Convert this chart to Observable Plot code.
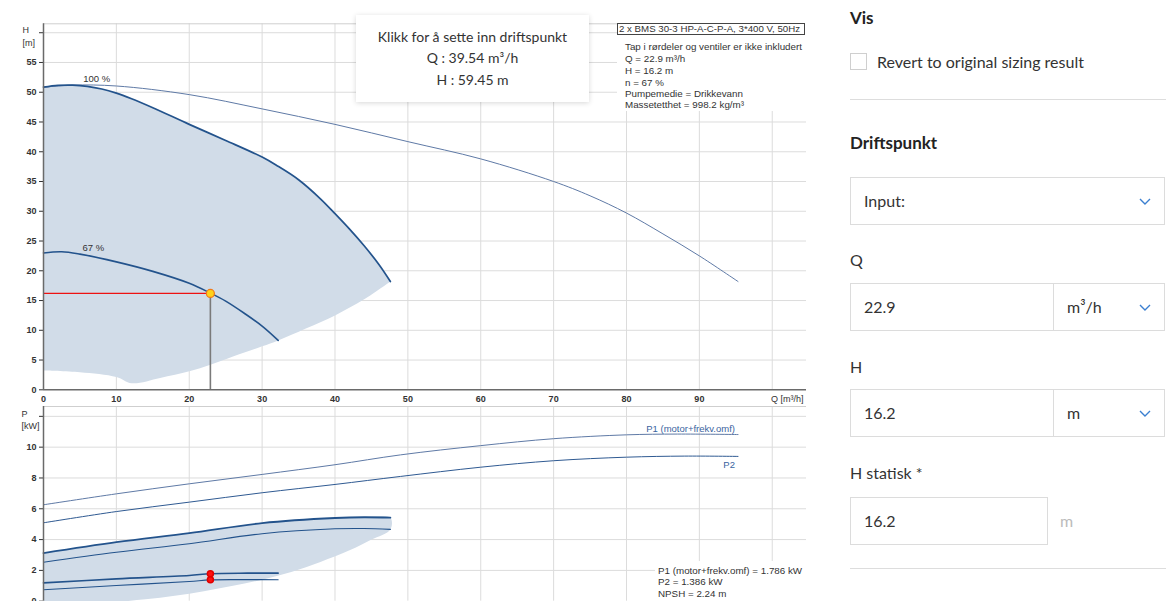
<!DOCTYPE html>
<html>
<head>
<meta charset="utf-8">
<script src="https://cdn.jsdelivr.net/npm/d3@7"></script>
<script src="https://cdn.jsdelivr.net/npm/@observablehq/plot@0.6"></script>
<style>
  body { margin: 0; background: #fff; }
  #page { position: relative; width: 1166px; height: 601px; overflow: hidden; font-family: Lato, "Open Sans", sans-serif; color: #333; }
  #top { position: absolute; left: 0; top: 0; }
  #bottom { position: absolute; left: 0; top: 400px; }
  .abs { position: absolute; }
  .chart-txt { font-family: "Liberation Sans", Arial, sans-serif; font-size: 9.8px; color: #333; white-space: nowrap; }
  #legend { left: 617px; top: 23px; width: 189px; height: 88px; background: #fff; }
  #legend .ttl { position: absolute; left: 0; top: 0; width: 185px; height: 10px; border: 1px solid #444; line-height: 10px; padding-left: 1px; font-size: 9.7px; overflow: hidden; }
  #legend .ln { position: absolute; left: 8px; line-height: 11px; }
  #info { left: 655px; top: 561px; width: 151px; height: 40px; background: #fff; }
  #info .ln { position: absolute; left: 3px; line-height: 11px; }
  #tip { left: 356px; top: 15px; width: 233px; height: 87px; background: #fff; box-shadow: 0 1px 5px rgba(0,0,0,0.16); font-family: Lato, sans-serif; font-size: 14px; color: #333; text-align: center; }
  #tip div { position: absolute; left: 0; width: 100%; line-height: 18px; }
  .h1 { font-size: 17px; font-weight: bold; color: #222; line-height: 22px; }
  .lbl { font-size: 16px; line-height: 22px; color: #333; }
  .box { border: 1px solid #dcdcdc; box-sizing: border-box; height: 48px; font-size: 16px; line-height: 46px; padding-left: 13px; color: #333; }
  .hr { height: 1px; background: #ddd; left: 850px; width: 316px; }
  .chev { position: absolute; right: 13px; top: 20px; }
  svg g[aria-label$="axis"] text, svg g[aria-label$="tick label"] text { font-weight: bold; }
</style>
</head>
<body>
<div id="page">
  <div id="top"></div>
  <div id="bottom"></div>

  <div id="legend" class="abs chart-txt">
    <div class="ttl">2 x BMS 30-3 HP-A-C-P-A, 3*400 V, 50Hz</div>
    <div class="ln" style="top:18px">Tap i rørdeler og ventiler er ikke inkludert</div>
    <div class="ln" style="top:30px">Q = 22.9 m³/h</div>
    <div class="ln" style="top:42px">H = 16.2 m</div>
    <div class="ln" style="top:54px">n = 67 %</div>
    <div class="ln" style="top:65px">Pumpemedie = Drikkevann</div>
    <div class="ln" style="top:76px">Massetetthet = 998.2 kg/m³</div>
  </div>

  <div id="info" class="abs chart-txt">
    <div class="ln" style="top:4px">P1 (motor+frekv.omf) = 1.786 kW</div>
    <div class="ln" style="top:15px">P2 = 1.386 kW</div>
    <div class="ln" style="top:27px">NPSH = 2.24 m</div>
  </div>

  <div id="tip" class="abs">
    <div style="top:13px">Klikk for å sette inn driftspunkt</div>
    <div style="top:34px">Q : 39.54 m³/h</div>
    <div style="top:56px">H : 59.45 m</div>
  </div>

  <!-- right panel -->
  <div class="abs h1" style="left:850px; top:7px;">Vis</div>
  <div class="abs" style="left:850px; top:53px; width:17px; height:17px; border:1px solid #cfcfcf; box-sizing:border-box;"></div>
  <div class="abs lbl" style="left:877px; top:51px;">Revert to original sizing result</div>
  <div class="abs hr" style="top:99px;"></div>
  <div class="abs h1" style="left:850px; top:132px;">Driftspunkt</div>
  <div class="abs box" style="left:850px; top:177px; width:315px;">Input:<svg class="chev" width="12" height="8"><polyline points="1,1 6,6 11,1" fill="none" stroke="#3b7fd0" stroke-width="1.4"/></svg></div>
  <div class="abs lbl" style="left:850px; top:249px;">Q</div>
  <div class="abs box" style="left:850px; top:283px; width:204px;">22.9</div>
  <div class="abs box" style="left:1053px; top:283px; width:112px;">m³/h<svg class="chev" width="12" height="8"><polyline points="1,1 6,6 11,1" fill="none" stroke="#3b7fd0" stroke-width="1.4"/></svg></div>
  <div class="abs lbl" style="left:850px; top:356px;">H</div>
  <div class="abs box" style="left:850px; top:389px; width:204px;">16.2</div>
  <div class="abs box" style="left:1053px; top:389px; width:112px;">m<svg class="chev" width="12" height="8"><polyline points="1,1 6,6 11,1" fill="none" stroke="#3b7fd0" stroke-width="1.4"/></svg></div>
  <div class="abs lbl" style="left:850px; top:462px;">H statisk *</div>
  <div class="abs box" style="left:850px; top:497px; width:198px;">16.2</div>
  <div class="abs lbl" style="left:1060px; top:510px; color:#bbb;">m</div>
  <div class="abs hr" style="top:568px;"></div>
</div>

<script>
// ---------- data ----------
const qTicks = [0, 10, 20, 30, 40, 50, 60, 70, 80, 90, 100];
const hTicks = [0, 5, 10, 15, 20, 25, 30, 35, 40, 45, 50, 55, 60];
const pTicks = [0, 2, 4, 6, 8, 10, 12];

// H curve, 1 pump 100 % speed (thick)
const h100Q = [0, 2, 4, 6, 8, 10, 12, 15, 20, 25, 30, 32, 35, 38, 40, 42, 44, 46, 47.6];
const h100H = [50.85, 51.15, 51.2, 51.0, 50.55, 49.85, 48.95, 47.4, 44.6, 41.9, 39.1, 37.7, 35.3, 32.1, 29.6, 27.0, 24.2, 21.1, 18.2];
// H curve, 2 pumps 100 % (thin)
const hMaxQ = [0, 4, 10, 20, 30, 40, 50, 60, 70, 75, 80, 85, 90, 95.3];
const hMaxH = [50.85, 51.2, 51.05, 49.6, 47.2, 44.6, 41.7, 38.8, 35.0, 32.6, 29.7, 26.2, 22.5, 18.2];
// H curve, 67 % speed
const h67Q = [0, 2.5, 5, 10, 15, 20, 22.9, 25, 27.5, 30, 32.2];
const h67H = [23.0, 23.2, 22.8, 21.5, 19.9, 17.9, 16.25, 14.9, 12.9, 10.7, 8.3];
// lower boundary of the H operating range
const hLowQ = [47.6, 44, 40, 36, 32.2, 30, 26, 22.9, 20, 16, 12.1, 10, 5, 0];
const hLowH = [18.2, 15.2, 12.5, 10.3, 8.3, 7.3, 5.6, 4.2, 3.1, 2.0, 1.1, 2.15, 2.95, 3.25];

// power curves
const p1MaxQ = [0, 10, 20, 30, 40, 49, 60, 70, 80, 87, 95.3];
const p1MaxP = [6.26, 6.97, 7.62, 8.23, 8.86, 9.5, 10.1, 10.55, 10.8, 10.85, 10.82];
const p2MaxQ = [0, 10, 20, 30, 40, 49, 60, 70, 80, 88, 95.3];
const p2MaxP = [5.09, 5.82, 6.43, 7.04, 7.58, 8.1, 8.7, 9.12, 9.35, 9.42, 9.4];
const p1_100Q = [0, 10, 20, 30, 40, 44, 47.6];
const p1_100P = [3.12, 3.83, 4.42, 5.07, 5.40, 5.45, 5.42];
const p2_100Q = [0, 10, 20, 30, 40, 44, 47.6];
const p2_100P = [2.53, 3.18, 3.73, 4.38, 4.70, 4.72, 4.66];
const p1_67Q = [0, 10, 20, 22.9, 28, 32.2];
const p1_67P = [1.19, 1.45, 1.67, 1.786, 1.82, 1.82];
const p2_67Q = [0, 10, 20, 22.9, 28, 32.2];
const p2_67P = [0.74, 1.02, 1.28, 1.386, 1.40, 1.39];
// lower boundary of the power range
const pLowQ = [47.6, 45, 42, 38, 34, 30, 26, 22, 18, 14, 10, 5, 0];
const pLowP = [4.66, 4.0, 3.3, 2.55, 1.9, 1.4, 1.0, 0.65, 0.35, 0.12, -0.05, -0.2, -0.3];

const opQ = 22.9, opH = 16.2, opP1 = 1.786, opP2 = 1.386;

const curveLabels = [{q: 7.3, v: 52.2, t: "100 %"}, {q: 6.85, v: 23.8, t: "67 %"}];

// ---------- helpers ----------
const pts = (qs, vs) => qs.map((q, i) => ({q, v: vs[i]}));
const poly = (upQ, upV, loQ, loV) => pts(upQ, upV).concat(pts(loQ, loV));

const thick = "#23538c", thin = "#5f7aa6", fillC = "#d1dce8", grid = "#dcdcdc", axisC = "#6a6a6a";
const fontStyle = {fontFamily: "'Liberation Sans', Arial, sans-serif", fontSize: "9px", color: "#333", background: "transparent"};
const C = "catmull-rom";

// ---------- top chart ----------
const topPlot = Plot.plot({
  width: 810, height: 405,
  marginLeft: 43, marginRight: 4, marginTop: 23.3, marginBottom: 15.7,
  style: fontStyle,
  x: {domain: [0, 104.7], ticks: qTicks, tickSize: 0, tickPadding: 6, label: null, tickFormat: d => d === 100 ? "" : d},
  y: {domain: [0, 61.5], ticks: hTicks, tickSize: 4, tickPadding: 3, label: null, tickFormat: d => d === 60 ? "" : d},
  marks: [
    Plot.ruleY(hTicks.filter(d => d > 0), {stroke: grid}),
    Plot.ruleX(qTicks.filter(d => d > 0), {stroke: grid}),
    Plot.ruleY([61.5], {stroke: "#cfcfcf"}),
    Plot.line(poly(h100Q, h100H, hLowQ, hLowH), {x: "q", y: "v", fill: fillC, stroke: null, curve: C}),
    Plot.line(pts(hMaxQ, hMaxH), {x: "q", y: "v", stroke: thin, strokeWidth: 1, curve: C}),
    Plot.line(pts(h100Q, h100H), {x: "q", y: "v", stroke: thick, strokeWidth: 1.7, curve: C}),
    Plot.line(pts(h67Q, h67H), {x: "q", y: "v", stroke: thick, strokeWidth: 1.6, curve: C}),
    Plot.text(curveLabels, {x: "q", y: "v", text: "t", fill: "#333", fontSize: 9.5}),
    Plot.ruleY([opH], {x1: 0, x2: opQ, stroke: "#ee1111", strokeWidth: 1.2}),
    Plot.ruleX([opQ], {y1: 0, y2: opH, stroke: "#7a7a7a", strokeWidth: 1.6}),
    Plot.dot([{q: opQ, v: opH}], {x: "q", y: "v", r: 4, fill: "#ffd21a", stroke: "#f07a1a", strokeWidth: 1.2}),
    Plot.ruleX([0], {stroke: axisC, strokeWidth: 1.5}),
    Plot.ruleY([0], {stroke: axisC, strokeWidth: 1.5}),
    Plot.text(["H"], {text: d => d, frameAnchor: "top-left", dx: -21, dy: 3, fill: "#333"}),
    Plot.text(["[m]"], {text: d => d, frameAnchor: "top-left", dx: -21, dy: 16, fill: "#333"}),
    Plot.text(["Q [m³/h]"], {text: d => d, x: 104.3, y: 0, dy: 9, textAnchor: "end", fill: "#333"})
  ]
});
document.getElementById("top").appendChild(topPlot);

// ---------- bottom chart ----------
const botPlot = Plot.plot({
  width: 810, height: 220,
  marginLeft: 43, marginRight: 4, marginTop: 6, marginBottom: 19.3,
  style: fontStyle,
  x: {domain: [0, 104.7], axis: null},
  y: {domain: [0, 12.64], ticks: pTicks, tickSize: 4, tickPadding: 3, label: null, tickFormat: d => d === 12 ? "" : d},
  marks: [
    Plot.ruleY(pTicks.filter(d => d > 0), {stroke: grid}),
    Plot.ruleX(qTicks.filter(d => d > 0), {stroke: grid}),
    Plot.ruleY([12.64], {stroke: "#cfcfcf"}),
    Plot.line(poly(p1_100Q, p1_100P, pLowQ, pLowP), {x: "q", y: "v", fill: fillC, stroke: null, curve: C}),
    Plot.line(pts(p1MaxQ, p1MaxP), {x: "q", y: "v", stroke: thin, strokeWidth: 1, curve: C}),
    Plot.line(pts(p2MaxQ, p2MaxP), {x: "q", y: "v", stroke: "#2f5a92", strokeWidth: 1, curve: C}),
    Plot.line(pts(p1_100Q, p1_100P), {x: "q", y: "v", stroke: thick, strokeWidth: 1.8, curve: C}),
    Plot.line(pts(p2_100Q, p2_100P), {x: "q", y: "v", stroke: thick, strokeWidth: 1.1, curve: C}),
    Plot.line(pts(p1_67Q, p1_67P), {x: "q", y: "v", stroke: thick, strokeWidth: 1.6, curve: C}),
    Plot.line(pts(p2_67Q, p2_67P), {x: "q", y: "v", stroke: thick, strokeWidth: 1.1, curve: C}),
    Plot.dot([{q: opQ, v: opP1}, {q: opQ, v: opP2}], {x: "q", y: "v", r: 3, fill: "#ff1010", stroke: "#e00000"}),
    Plot.text([{q: 95.3, v: 10.82, t: "P1 (motor+frekv.omf)"}], {x: "q", y: "v", text: "t", textAnchor: "end", dx: -3, dy: -6, fill: "#3a64a0", fontSize: 9.5}),
    Plot.text([{q: 95.3, v: 9.4, t: "P2"}], {x: "q", y: "v", text: "t", textAnchor: "end", dx: -3, dy: 9, fill: "#3a64a0", fontSize: 9.5}),
    Plot.ruleX([0], {stroke: axisC, strokeWidth: 1.5}),
    Plot.text(["P"], {text: d => d, frameAnchor: "top-left", dx: -22, dy: 4, fill: "#333"}),
    Plot.text(["[kW]"], {text: d => d, frameAnchor: "top-left", dx: -22, dy: 15.7, fill: "#333"})
  ]
});
document.getElementById("bottom").appendChild(botPlot);
</script>
</body>
</html>
